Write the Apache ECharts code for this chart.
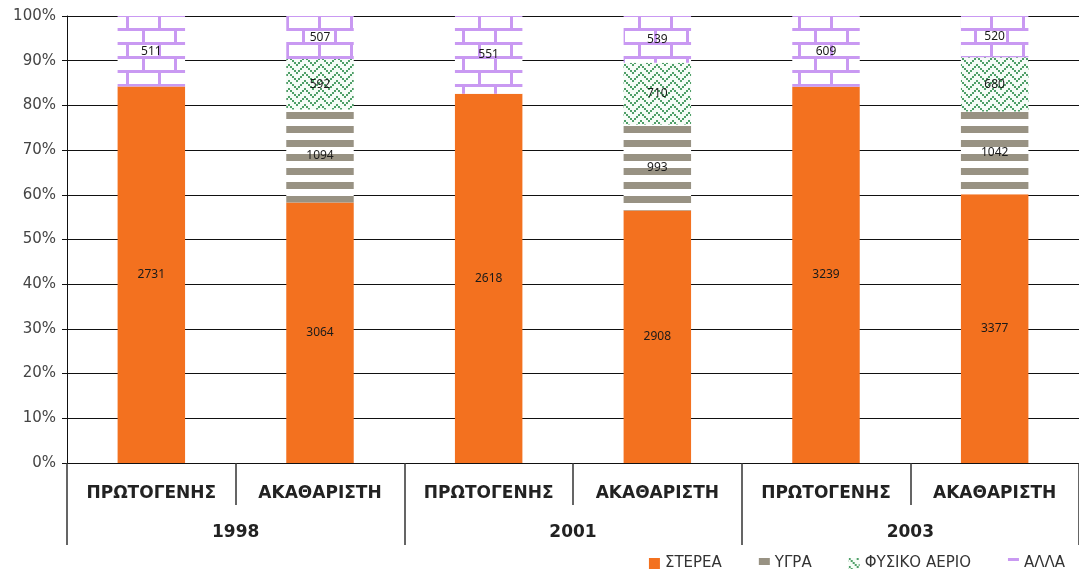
<!DOCTYPE html>
<html>
<head>
<meta charset="utf-8">
<script src="https://cdn.jsdelivr.net/npm/echarts@6/dist/echarts.min.js"></script>
<style>
  html, body { margin: 0; padding: 0; background: #fff; }
  #chart { width: 1079px; height: 570px; }
</style>
</head>
<body>
<div id="chart"></div>
<script>
// data
const categories = ['ΠΡΩΤΟΓΕΝΗΣ', 'ΑΚΑΘΑΡΙΣΤΗ', 'ΠΡΩΤΟΓΕΝΗΣ', 'ΑΚΑΘΑΡΙΣΤΗ', 'ΠΡΩΤΟΓΕΝΗΣ', 'ΑΚΑΘΑΡΙΣΤΗ'];
const years = ['1998', '2001', '2003'];
const seriesNames = ['ΣΤΕΡΕΑ', 'ΥΓΡΑ', 'ΦΥΣΙΚΟ ΑΕΡΙΟ', 'ΑΛΛΑ'];
const sterea = [2731, 3064, 2618, 2908, 3239, 3377];
const ygra = [null, 1094, null, 993, null, 1042];
const aerio = [null, 592, null, 710, null, 680];
const alla = [511, 507, 551, 539, 609, 520];
const yTicks = [0, 10, 20, 30, 40, 50, 60, 70, 80, 90, 100];

const rawSeries = [sterea, ygra, aerio, alla];

// totals per column -> share in %
const totals = categories.map((c, i) => rawSeries.reduce((s, arr) => s + (arr[i] || 0), 0));

// --- fill patterns ---
function brickPattern() {
    let c = document.createElement('canvas');
    c.width = 64; c.height = 28;
    let ctx = c.getContext('2d');
    ctx.fillStyle = '#fff';
    ctx.fillRect(0, 0, 64, 28);
    ctx.fillStyle = '#c999f2';
    ctx.fillRect(0, 0, 64, 3);
    ctx.fillRect(0, 14, 64, 3);
    ctx.fillRect(14, 0, 3, 14);
    ctx.fillRect(46, 0, 3, 14);
    ctx.fillRect(30, 14, 3, 14);
    ctx.fillRect(62, 14, 2, 14);
    ctx.fillRect(0, 14, 1, 14);
    return c;
}
function stripePattern() {
    let c = document.createElement('canvas');
    c.width = 8; c.height = 14;
    let ctx = c.getContext('2d');
    ctx.fillStyle = '#fff';
    ctx.fillRect(0, 0, 8, 14);
    ctx.fillStyle = '#989283';
    ctx.fillRect(0, 0, 8, 7);
    return c;
}
function gasPattern() {
    let c = document.createElement('canvas');
    c.width = 16; c.height = 16;
    let ctx = c.getContext('2d');
    ctx.fillStyle = '#f6fcf7';
    ctx.fillRect(0, 0, 16, 16);
    ctx.fillStyle = '#4f9f68';
    for (let x = 0; x < 16; x += 2) {
        let y = x < 8 ? x : 16 - x;
        ctx.fillRect(x, y % 16, 2, 2);
        ctx.fillRect(x, (y + 8) % 16, 2, 2);
    }
    return c;
}

const fills = [
    '#f3711f',
    { image: stripePattern(), repeat: 'repeat' },
    { image: gasPattern(), repeat: 'repeat' },
    { image: brickPattern(), repeat: 'repeat' }
];

const series = rawSeries.map((arr, k) => ({
    name: seriesNames[k],
    type: 'bar',
    stack: 'all',
    barCategoryGap: '60%',
    data: arr.map((v, i) => v == null ? '-' : v / totals[i] * 100),
    itemStyle: { color: fills[k] },
    label: {
        show: true,
        position: 'inside',
        fontFamily: 'Noto Sans',
        fontSize: 12,
        color: '#1a1a1a',
        formatter: p => arr[p.dataIndex] == null ? '' : String(arr[p.dataIndex])
    }
}));

let chart = echarts.init(document.getElementById('chart'));
chart.setOption({
    animation: false,
    grid: { left: 67, top: 16, width: 1014, height: 447 },
    legend: {
        data: seriesNames,
        icon: 'rect',
        right: 9,
        top: 551,
        itemWidth: 11,
        itemHeight: 11,
        itemGap: 37,
        textStyle: { fontFamily: 'DejaVu Sans', fontSize: 15, color: '#333' }
    },
    xAxis: [
        {
            type: 'category',
            data: categories,
            axisLine: { show: true, lineStyle: { color: '#111', width: 1 } },
            axisTick: { show: true, alignWithLabel: false, interval: 0, length: 42, lineStyle: { color: '#333', width: 1.5 } },
            axisLabel: {
                margin: 22,
                fontFamily: 'DejaVu Sans',
                fontWeight: 'bold',
                fontSize: 17,
                color: '#222'
            }
        },
        {
            type: 'category',
            data: years,
            position: 'bottom',
            axisLine: { show: false },
            axisTick: { show: true, alignWithLabel: false, interval: 0, length: 82, lineStyle: { color: '#333', width: 1.5 } },
            axisLabel: {
                margin: 61,
                fontFamily: 'DejaVu Sans',
                fontWeight: 'bold',
                fontSize: 17,
                color: '#222'
            }
        }
    ],
    yAxis: {
        type: 'value',
        min: yTicks[0],
        max: yTicks[yTicks.length - 1],
        interval: 10,
        axisLine: { show: true, lineStyle: { color: '#111', width: 1 } },
        axisTick: { show: true, length: 5, lineStyle: { color: '#111' } },
        splitLine: { lineStyle: { color: '#111', width: 1 } },
        axisLabel: {
            margin: 11,
            fontFamily: 'DejaVu Sans',
            fontSize: 15,
            color: '#444',
            formatter: v => v + '%'
        }
    },
    series: series
});
</script>
</body>
</html>
